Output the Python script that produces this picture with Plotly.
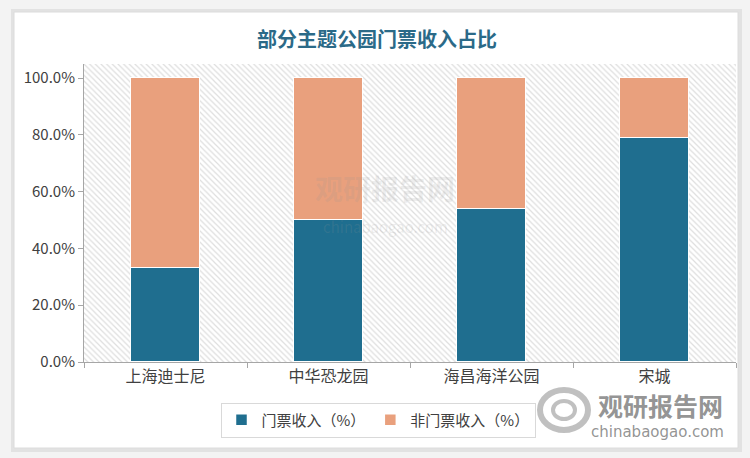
import plotly.graph_objects as go

categories = ["上海迪士尼", "中华恐龙园", "海昌海洋公园", "宋城"]
ticket_share = [0.33, 0.50, 0.54, 0.79]
non_ticket_share = [0.67, 0.50, 0.46, 0.21]
series_names = ["门票收入（%）", "非门票收入（%）"]
y_ticks = [0, 0.2, 0.4, 0.6, 0.8, 1.0]
y_tick_labels = ["0.0%", "20.0%", "40.0%", "60.0%", "80.0%", "100.0%"]

BLUE = "#1F6E8F"
ORANGE = "#E9A07D"
FONT = "Noto Sans CJK SC, Microsoft YaHei, sans-serif"

fig = go.Figure()

# hatched plot background (decorative) on base axes
fig.add_trace(go.Bar(
    x=[0.5], y=[1], width=[1], xaxis="x", yaxis="y",
    marker=dict(color="white", line=dict(width=0),
                pattern=dict(shape="\\", fgcolor="#bdbdbd", bgcolor="white",
                             size=4, solidity=0.3)),
    showlegend=False, hoverinfo="skip"))

fig.add_trace(go.Bar(
    x=categories, y=ticket_share, name=series_names[0], xaxis="x2", yaxis="y2",
    marker=dict(color=BLUE, line=dict(color="white", width=1.5)), width=0.42))
fig.add_trace(go.Bar(
    x=categories, y=non_ticket_share, name=series_names[1], xaxis="x2", yaxis="y2",
    marker=dict(color=ORANGE, line=dict(color="white", width=1.5)), width=0.42))

L, R, T, B = 84, 14, 64, 96
W, H = 750, 458
pw, ph = W - L - R, H - T - B

def px_x(p):
    return (p - L) / pw

def px_y(p):
    return (H - B - p) / ph

shapes = [
    # card shadow
    dict(type="rect", xref="paper", yref="paper", layer="below",
         x0=px_x(11), x1=px_x(742), y0=px_y(452), y1=px_y(9),
         fillcolor="#e2e2e2", line=dict(width=0)),
    # card
    dict(type="rect", xref="paper", yref="paper", layer="below",
         x0=px_x(14), x1=px_x(738), y0=px_y(448), y1=px_y(12),
         fillcolor="white", line=dict(color="#dcdcdc", width=1)),
    # watermark logo rings (bottom right)
    dict(type="circle", xref="paper", yref="paper", layer="above",
         x0=px_x(540), x1=px_x(588), y0=px_y(430), y1=px_y(390),
         line=dict(color="rgba(150,150,150,0.6)", width=6)),
    dict(type="circle", xref="paper", yref="paper", layer="above",
         x0=px_x(553), x1=px_x(575), y0=px_y(419), y1=px_y(401),
         line=dict(color="rgba(150,150,150,0.6)", width=4)),
]

annotations = [
    dict(text="<b>部分主题公园门票收入占比</b>", xref="paper", yref="paper",
         x=px_x(377), y=px_y(38), showarrow=False,
         font=dict(family=FONT, size=20, color="#2B6A88"),
         xanchor="center", yanchor="middle"),
    # watermarks
    dict(text="<b>观研报告网</b>", xref="paper", yref="paper",
         x=px_x(385), y=px_y(188), showarrow=False,
         font=dict(family=FONT, size=28, color="rgba(150,150,150,0.16)"),
         xanchor="center", yanchor="middle"),
    dict(text="chinabaogao.com", xref="paper", yref="paper",
         x=px_x(385), y=px_y(226), showarrow=False,
         font=dict(family=FONT, size=15, color="rgba(150,150,150,0.16)"),
         xanchor="center", yanchor="middle"),
    dict(text="<b>观研报告网</b>", xref="paper", yref="paper",
         x=px_x(660), y=px_y(405), showarrow=False,
         font=dict(family=FONT, size=25, color="rgba(120,120,120,0.8)"),
         xanchor="center", yanchor="middle"),
    dict(text="chinabaogao.com", xref="paper", yref="paper",
         x=px_x(657), y=px_y(432), showarrow=False,
         font=dict(family="DejaVu Sans, sans-serif", size=15, color="rgba(120,120,120,0.8)"),
         xanchor="center", yanchor="middle"),
]

fig.update_layout(
    width=W, height=H,
    margin=dict(l=L, r=R, t=T, b=B),
    paper_bgcolor="#f3f3f3",
    plot_bgcolor="rgba(0,0,0,0)",
    barmode="stack",
    bargap=0,
    font=dict(family=FONT, size=14, color="#404040"),
    xaxis=dict(range=[0, 1], visible=False, fixedrange=True),
    yaxis=dict(range=[0, 1], visible=False, fixedrange=True),
    xaxis2=dict(overlaying="x", anchor="y2", side="bottom",
                showline=True, linecolor="#a6a6a6", linewidth=1,
                ticks="outside", tickson="boundaries", ticklen=5, tickcolor="#a6a6a6",
                tickfont=dict(size=16, color="#404040"), showgrid=False,
                range=[-0.5, 3.5]),
    yaxis2=dict(overlaying="y", anchor="x2", side="left",
                range=[0, 1.05], tickvals=y_ticks, ticktext=y_tick_labels,
                showline=True, linecolor="#a6a6a6", linewidth=1,
                ticks="outside", ticklen=5, tickcolor="#a6a6a6",
                showgrid=False, zeroline=False,
                tickfont=dict(size=15, color="#404040")),
    legend=dict(orientation="h", x=px_x(378), y=px_y(420),
                xanchor="center", yanchor="middle",
                bgcolor="white", bordercolor="#d9d9d9", borderwidth=1,
                font=dict(size=15, color="#404040"), traceorder="normal",
                itemwidth=30, tracegroupgap=0),
    shapes=shapes,
    annotations=annotations,
)

fig.write_html("out.html")
